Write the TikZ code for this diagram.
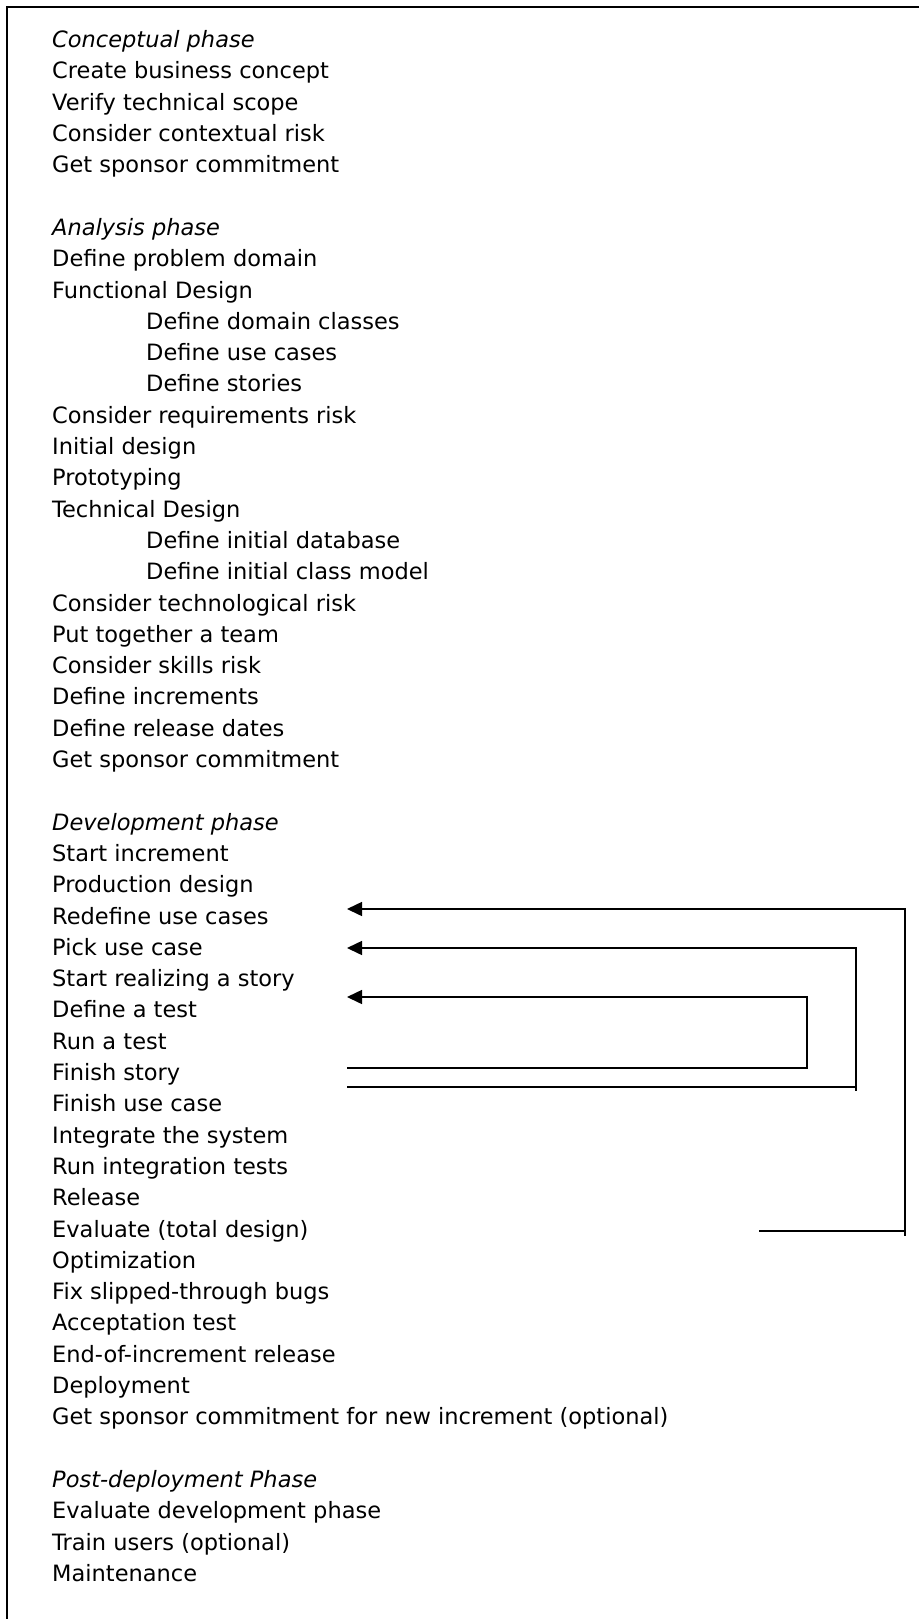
\documentclass[tikz,border=0pt]{standalone}
\usepackage{fontspec}
\setmainfont{DejaVu Sans}
\usetikzlibrary{arrows.meta}
\begin{document}
\begin{tikzpicture}[x=1pt,y=-1pt,
  item/.style={anchor=base west, inner sep=0pt, font=\fontsize{22.5}{27}\selectfont},
  phase/.style={item, font=\fontsize{22.5}{27}\selectfont\itshape},
  loopline/.style={line width=1.5pt, line join=miter},
  looparrow/.style={loopline, -{Triangle[length=15pt,width=14pt]}},
  frame/.style={line width=2.2pt}]
\useasboundingbox (0,0) rectangle (919,1619);
\draw[frame] (919,7) -- (7,7) -- (7,1619);

% Conceptual phase
\node[phase] (p1)  at (52,47.6)  {Conceptual phase};
\node[item]  (t1)  at (52,78.9)  {Create business concept};
\node[item]  (t2)  at (52,110.2) {Verify technical scope};
\node[item]  (t3)  at (52,141.5) {Consider contextual risk};
\node[item]  (t4)  at (52,172.8) {Get sponsor commitment};

% Analysis phase
\node[phase] (p2)  at (52,235.4) {Analysis phase};
\node[item]  (t7)  at (52,266.7) {Define problem domain};
\node[item]  (t8)  at (52,298.0) {Functional Design};
\node[item]  (t9)  at (146,329.3) {Define domain classes};
\node[item]  (t10) at (146,360.6) {Define use cases};
\node[item]  (t11) at (146,391.9) {Define stories};
\node[item]  (t12) at (52,423.2) {Consider requirements risk};
\node[item]  (t13) at (52,454.5) {Initial design};
\node[item]  (t14) at (52,485.8) {Prototyping};
\node[item]  (t15) at (52,517.1) {Technical Design};
\node[item]  (t16) at (146,548.4) {Define initial database};
\node[item]  (t17) at (146,579.7) {Define initial class model};
\node[item]  (t18) at (52,611.0) {Consider technological risk};
\node[item]  (t19) at (52,642.3) {Put together a team};
\node[item]  (t20) at (52,673.6) {Consider skills risk};
\node[item]  (t21) at (52,704.9) {Define increments};
\node[item]  (t22) at (52,736.2) {Define release dates};
\node[item]  (t23) at (52,767.5) {Get sponsor commitment};

% Development phase
\node[phase] (p3)  at (52,830.1) {Development phase};
\node[item]  (t26) at (52,861.4) {Start increment};
\node[item]  (t27) at (52,892.7) {Production design};
\node[item]  (t28) at (52,924.0) {Redefine use cases};
\node[item]  (t29) at (52,955.3) {Pick use case};
\node[item]  (t30) at (52,986.6) {Start realizing a story};
\node[item]  (t31) at (52,1017.9) {Define a test};
\node[item]  (t32) at (52,1049.2) {Run a test};
\node[item]  (t33) at (52,1080.5) {Finish story};
\node[item]  (t34) at (52,1111.8) {Finish use case};
\node[item]  (t35) at (52,1143.1) {Integrate the system};
\node[item]  (t36) at (52,1174.4) {Run integration tests};
\node[item]  (t37) at (52,1205.7) {Release};
\node[item]  (t38) at (52,1237.0) {Evaluate (total design)};
\node[item]  (t39) at (52,1268.3) {Optimization};
\node[item]  (t40) at (52,1299.6) {Fix slipped-through bugs};
\node[item]  (t41) at (52,1330.9) {Acceptation test};
\node[item]  (t42) at (52,1362.2) {End-of-increment release};
\node[item]  (t43) at (52,1393.5) {Deployment};
\node[item]  (t44) at (52,1424.8) {Get sponsor commitment for new increment (optional)};

% Post-deployment phase
\node[phase] (p4)  at (52,1487.4) {Post-deployment Phase};
\node[item]  (t47) at (52,1518.7) {Evaluate development phase};
\node[item]  (t48) at (52,1550.0) {Train users (optional)};
\node[item]  (t49) at (52,1581.3) {Maintenance};

% loop connectors
\coordinate (toRedefine) at (347,909);
\coordinate (toPick)     at (347,948);
\coordinate (toDefine)   at (347,997);
\coordinate (fromStory)  at (347,1068);
\coordinate (fromUse)    at (347,1087);
\coordinate (fromEval)   at (759,1231);

\draw[looparrow] (fromStory) -- (807,1068) |- (toDefine);
\draw[looparrow] (fromUse)   -- (856,1087) |- (toPick);
\draw[looparrow] (fromEval)  -- (905,1231) |- (toRedefine);
\draw[loopline] (856,1087) -- (856,1091);
\draw[loopline] (905,1231) -- (905,1236);
\end{tikzpicture}
\end{document}
